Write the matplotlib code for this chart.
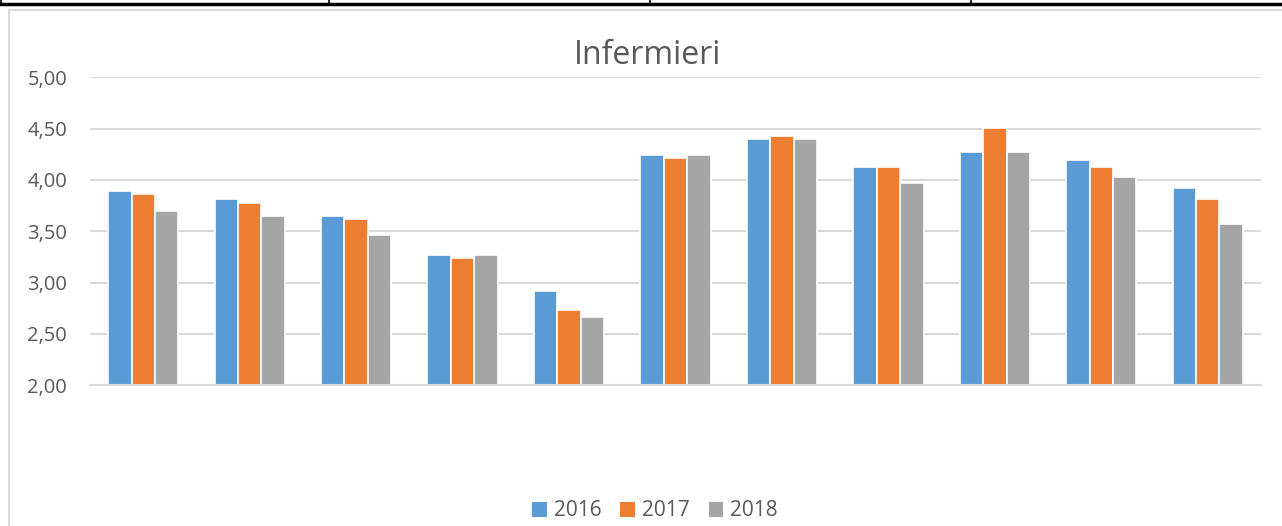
import matplotlib
matplotlib.use("Agg")
import matplotlib.pyplot as plt
import numpy as np
from matplotlib.lines import Line2D
from matplotlib.patches import Rectangle

plt.rcParams['font.family'] = ['Open Sans', 'DejaVu Sans']

title = "Infermieri"
series_names = ["2016", "2017", "2018"]
categories = [str(i) for i in range(1, 12)]
v2016 = [3.89, 3.81, 3.65, 3.27, 2.92, 4.24, 4.40, 4.13, 4.27, 4.19, 3.92]
v2017 = [3.86, 3.78, 3.62, 3.24, 2.73, 4.21, 4.43, 4.13, 4.51, 4.13, 3.81]
v2018 = [3.70, 3.65, 3.46, 3.27, 2.67, 4.24, 4.40, 3.97, 4.27, 4.03, 3.57]
yticks = [2.0, 2.5, 3.0, 3.5, 4.0, 4.5, 5.0]
colors = ["#5b9bd5", "#ed7d31", "#a5a5a5"]

W, H = 1282, 526
fig = plt.figure(figsize=(W / 100, H / 100), dpi=100)

# table strip at top
fig.add_artist(Line2D([0, 1], [1 - 3.5 / H, 1 - 3.5 / H], color="black", lw=2.5, transform=fig.transFigure))
for xp in [1, 329, 650, 971]:
    fig.add_artist(Line2D([xp / W, xp / W], [1, 1 - 4 / H], color="black", lw=1.2, transform=fig.transFigure))
# chart area border
fig.add_artist(Rectangle((8.5 / W, -0.05), 1.2, 1 - 10.5 / H + 0.05, fill=False,
                         edgecolor="#d9d9d9", lw=1.5, transform=fig.transFigure))

ax = fig.add_axes([90 / W, 1 - 385.3 / H, (1261 - 90) / W, (385.3 - 77.3) / H])
x = np.arange(len(categories))
bw = 0.22
for i, (vals, name) in enumerate(zip([v2016, v2017, v2018], series_names)):
    ax.bar(x + (i - 1) * bw, np.array(vals) - 2.0, bottom=2.0, width=bw, color=colors[i],
           edgecolor="white", linewidth=1.2, label=name, zorder=3)

ax.set_xlim(-0.5, len(categories) - 0.5)
ax.set_ylim(2.0, 5.0)
ax.set_yticks(yticks)
ax.set_yticklabels([f"{t:.2f}".replace(".", ",") for t in yticks])
ax.set_xticks([])
ax.grid(axis="y", color="#d9d9d9", lw=1.5, zorder=0)
for s in ["top", "right", "left"]:
    ax.spines[s].set_visible(False)
ax.spines["bottom"].set_color("#d9d9d9")
ax.spines["bottom"].set_linewidth(1.5)
ax.spines["bottom"].set_zorder(4)
ax.tick_params(axis="y", length=0, pad=16.5, labelsize=14.5, labelcolor="#595959")

fig.text(648 / W, 1 - 64.3 / H, title, ha="center", va="baseline", fontsize=23, color="#595959")

handles, labels = ax.get_legend_handles_labels()
leg = fig.legend(handles, labels, loc="center", bbox_to_anchor=(655 / W, 1 - 511 / H), ncol=3,
                 frameon=False, fontsize=15, handlelength=0.7, handleheight=0.7,
                 handletextpad=0.35, columnspacing=0.9, labelcolor="#595959")
for p in leg.get_patches():
    p.set_edgecolor("none")

fig.savefig("out.png", dpi=100)
